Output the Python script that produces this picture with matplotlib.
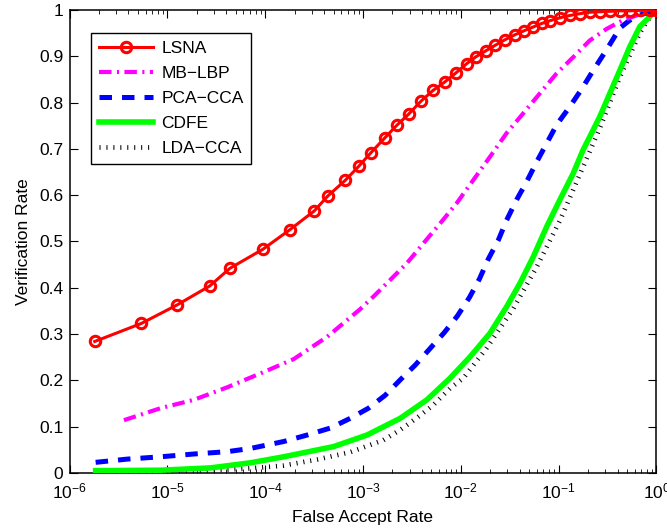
import numpy as np
import matplotlib
matplotlib.use("Agg")
import matplotlib.pyplot as plt
from matplotlib.ticker import LogLocator, NullFormatter, FixedLocator, FixedFormatter

plt.rcParams['font.family'] = ['Liberation Sans', 'DejaVu Sans']
plt.rcParams['mathtext.fontset'] = 'custom'
plt.rcParams['mathtext.rm'] = 'Liberation Sans'
plt.rcParams['mathtext.it'] = 'Liberation Sans:italic'
plt.rcParams['mathtext.bf'] = 'Liberation Sans:bold'

# ---------------- data ----------------
far_lsna = [1.81e-6, 5.43e-6, 1.26e-5, 2.72e-5, 4.36e-5, 9.46e-5, 1.78e-4, 3.18e-4, 4.36e-4, 6.59e-4,
            9.02e-4, 1.21e-3, 1.66e-3, 2.22e-3, 2.93e-3, 3.92e-3, 5.19e-3, 6.82e-3, 8.91e-3, 0.0115,
            0.0143, 0.0181, 0.0226, 0.0285, 0.0354, 0.0443, 0.0547, 0.0676, 0.0824, 0.103,
            0.130, 0.165, 0.209, 0.264, 0.334, 0.423, 0.535, 0.676, 0.855, 1.0]
vr_lsna = [0.284, 0.323, 0.363, 0.404, 0.442, 0.483, 0.525, 0.566, 0.598, 0.632,
           0.662, 0.692, 0.723, 0.751, 0.775, 0.803, 0.826, 0.844, 0.864, 0.884,
           0.899, 0.912, 0.924, 0.936, 0.946, 0.955, 0.963, 0.971, 0.977, 0.983,
           0.988, 0.992, 0.995, 0.996, 0.997, 0.998, 0.998, 0.999, 0.999, 1.0]

far_mb = [3.60e-6, 8.55e-6, 1.87e-5, 4.09e-5, 8.95e-5, 1.96e-4, 4.30e-4, 9.38e-4, 1.28e-3, 1.90e-3,
          2.81e-3, 4.15e-3, 6.15e-3, 9.10e-3, 0.01346, 0.0199, 0.0294, 0.0436, 0.0644, 0.0955,
          0.141, 0.208, 0.309, 0.456, 0.625, 0.791, 1.0]
vr_mb = [0.114, 0.140, 0.158, 0.185, 0.215, 0.246, 0.294, 0.354, 0.381, 0.417,
         0.453, 0.496, 0.539, 0.583, 0.633, 0.683, 0.734, 0.777, 0.820, 0.863,
         0.898, 0.934, 0.959, 0.978, 0.988, 0.995, 1.0]

far_pca = [1.85e-6, 3.91e-6, 8.55e-6, 1.87e-5, 4.09e-5, 7.08e-5, 1.55e-4, 2.69e-4, 4.63e-4, 7.41e-4,
           1.14e-3, 1.69e-3, 2.40e-3, 3.42e-3, 4.86e-3, 6.76e-3, 9.22e-3, 0.01225, 0.0155, 0.0191,
           0.0242, 0.0294, 0.0372, 0.0471, 0.0597, 0.0755, 0.0955, 0.130, 0.172, 0.225,
           0.309, 0.423, 0.535, 0.676, 1.0]
vr_pca = [0.023, 0.030, 0.035, 0.041, 0.046, 0.053, 0.068, 0.082, 0.097, 0.118,
          0.140, 0.168, 0.201, 0.233, 0.269, 0.303, 0.339, 0.379, 0.419, 0.462,
          0.503, 0.546, 0.590, 0.629, 0.672, 0.712, 0.752, 0.791, 0.829, 0.869,
          0.914, 0.961, 0.978, 0.989, 1.0]

far_cdfe = [1.85e-6, 8.55e-6, 2.77e-5, 7.08e-5, 1.55e-4, 5.01e-4, 1.10e-3, 2.40e-3, 4.50e-3, 7.78e-3,
            0.01245, 0.0199, 0.0294, 0.0403, 0.0551, 0.0755, 0.103, 0.141, 0.178, 0.208,
            0.264, 0.334, 0.423, 0.535, 0.676, 1.0]
vr_cdfe = [0.005, 0.006, 0.011, 0.022, 0.035, 0.057, 0.082, 0.118, 0.158, 0.205,
           0.251, 0.302, 0.359, 0.410, 0.467, 0.532, 0.590, 0.647, 0.698, 0.726,
           0.770, 0.820, 0.870, 0.921, 0.964, 1.0]

far_lda = [1.85e-6, 6.76e-6, 2.19e-5, 7.08e-5, 1.54e-4, 3.40e-4, 7.41e-4, 1.62e-3, 2.40e-3, 3.56e-3,
           5.25e-3, 7.78e-3, 0.01064, 0.0184, 0.0344, 0.0597, 0.103, 0.177, 0.264, 0.423,
           0.676, 0.815, 1.0]
vr_lda = [0.001, 0.002, 0.004, 0.010, 0.016, 0.029, 0.045, 0.071, 0.093, 0.119,
          0.147, 0.183, 0.205, 0.270, 0.355, 0.445, 0.545, 0.660, 0.745, 0.855,
          0.950, 0.978, 1.0]

labels = ['LSNA', 'MB\u2212LBP', 'PCA\u2212CCA', 'CDFE', 'LDA\u2212CCA']
ytick_vals = [0, 0.1, 0.2, 0.3, 0.4, 0.5, 0.6, 0.7, 0.8, 0.9, 1]
ytick_labels = ['0', '0.1', '0.2', '0.3', '0.4', '0.5', '0.6', '0.7', '0.8', '0.9', '1']

FS = 12.5

# ---------------- figure ----------------
fig = plt.figure(figsize=(6.67, 5.28), dpi=100)
ax = fig.add_axes([0.1042, 0.1042, 0.880, 0.877])

ax.plot(far_lda, vr_lda, color='black', lw=3.4, linestyle=(0, (0.22, 1.25)),
        dash_capstyle='butt', label=labels[4], zorder=2)
ax.plot(far_cdfe, vr_cdfe, color='#00ff00', lw=4.0, label=labels[3], zorder=3,
        solid_joinstyle='round')
ax.plot(far_pca, vr_pca, color='#0000ff', lw=3.6, linestyle=(0, (2.5, 2.0)),
        dash_capstyle='butt', label=labels[2], zorder=4)
ax.plot(far_mb, vr_mb, color='#ff00ff', lw=3.0, linestyle=(0, (3.0, 1.3, 0.5, 1.3)),
        dash_capstyle='butt', label=labels[1], zorder=5)
ax.plot(far_lsna, vr_lsna, color='#ff0000', lw=2.2, marker='o', markersize=7.5,
        markerfacecolor='none', markeredgewidth=2.2, label=labels[0], zorder=6)

ax.set_xscale('log')
ax.set_xlim(1e-6, 1)
ax.set_ylim(0, 1)
ax.xaxis.set_major_locator(LogLocator(base=10, numticks=10))
ax.xaxis.set_minor_locator(LogLocator(base=10, subs=np.arange(2, 10), numticks=20))
ax.xaxis.set_minor_formatter(NullFormatter())
ax.yaxis.set_major_locator(FixedLocator(ytick_vals))
ax.yaxis.set_major_formatter(FixedFormatter(ytick_labels))

ax.tick_params(which='both', direction='in', top=True, right=True, labelsize=FS, color='black')
ax.tick_params(which='major', length=5.5, width=0.8, pad=4.5)
ax.tick_params(axis='x', which='major', pad=6)
ax.tick_params(which='minor', length=3, width=0.6)
for s in ax.spines.values():
    s.set_linewidth(1.1)

ax.set_xlabel('False Accept Rate', fontsize=FS, labelpad=6)
ax.set_ylabel('Verification Rate', fontsize=FS, labelpad=6)

handles, labs = ax.get_legend_handles_labels()
order = [4, 3, 2, 1, 0]
leg = ax.legend([handles[i] for i in order], [labs[i] for i in order],
                loc='upper left', bbox_to_anchor=(0.0366, 0.951), borderaxespad=0,
                fontsize=FS, handlelength=3.1, handletextpad=0.5, labelspacing=0.57,
                borderpad=0.45, fancybox=False, framealpha=1, edgecolor='black')
leg.get_frame().set_linewidth(1.0)

fig.savefig('out.png', dpi=100)
